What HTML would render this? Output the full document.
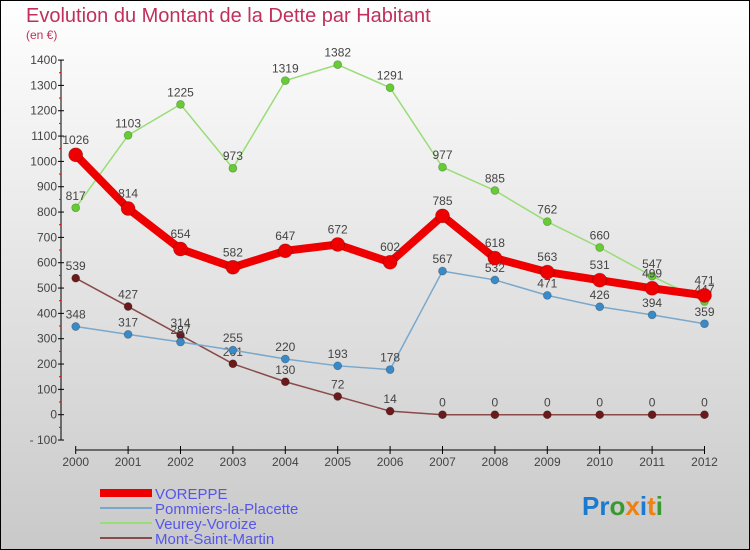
<!DOCTYPE html>
<html><head><meta charset="utf-8"><style>
body{margin:0;}
#c{width:750px;height:550px;position:relative;overflow:hidden;}
svg text{font-family:"Liberation Sans",sans-serif;}
</style></head><body>
<div id="c">
<svg id="s" width="750" height="550" xmlns="http://www.w3.org/2000/svg">
<defs><linearGradient id="bg" x1="0" y1="0" x2="0" y2="1"><stop offset="0" stop-color="#ffffff"/><stop offset="1" stop-color="#c9c9c9"/></linearGradient></defs>
<rect x="0.5" y="0.5" width="749" height="549" fill="url(#bg)" stroke="#000"/>
<text x="26" y="22" font-size="20" fill="#c0305a">Evolution du Montant de la Dette par Habitant</text>
<text x="26" y="39" font-size="12" fill="#c0305a">(en €)</text>
<g id="axes"></g><g id="series"></g><g id="legend"></g>
<text x="582" y="515" font-size="26" font-weight="bold"><tspan fill="#1a7ad0">Pr</tspan><tspan fill="#3a9a30">o</tspan><tspan fill="#f08010">x</tspan><tspan fill="#1a7ad0">i</tspan><tspan fill="#f08010">t</tspan><tspan fill="#3a9a30">i</tspan></text>
</svg></div>
<script>
const years=[2000,2001,2002,2003,2004,2005,2006,2007,2008,2009,2010,2011,2012];
const yTicks=[-100,0,100,200,300,400,500,600,700,800,900,1000,1100,1200,1300,1400];
const voreppe=[1026,814,654,582,647,672,602,785,618,563,531,499,471];
const pommiers=[348,317,287,255,220,193,178,567,532,471,426,394,359];
const veurey=[817,1103,1225,973,1319,1382,1291,977,885,762,660,547,447];
const mont=[539,427,314,201,130,72,14,0,0,0,0,0,0];
const NS="http://www.w3.org/2000/svg";
function X(i){return 75.7+i*52.4;}
function Y(v){return 414.7-v*0.2533;}
function mk(tag,attrs,parent,txt){const e=document.createElementNS(NS,tag);for(const k in attrs)e.setAttribute(k,attrs[k]);if(txt!==undefined)e.textContent=txt;parent.appendChild(e);return e;}
const ax=document.getElementById('axes');
let a=mk('line',{x1:61,y1:Y(1400),x2:61,y2:Y(-100),stroke:'#000','stroke-width':1},ax);


yTicks.forEach(t=>{
  let l=mk('line',{x1:58,y1:Y(t),x2:64,y2:Y(t),stroke:'#000'},ax);
  
  
  if(t<1400){let m=mk('line',{x1:59,y1:Y(t+50),x2:61,y2:Y(t+50),stroke:'#e00'},ax);
  
  }
  let tx=mk('text',{x:57,y:Y(t)+4,'font-size':12,fill:'#444','text-anchor':'end'},ax,t<0?'- '+(-t):String(t));
  
  
});
a=mk('line',{x1:X(0),y1:450,x2:X(12),y2:450,stroke:'#000','stroke-width':1},ax);


years.forEach((yr,i)=>{
  let l=mk('line',{x1:X(i),y1:446,x2:X(i),y2:454,stroke:'#000'},ax);
  
  
  let tx=mk('text',{x:X(i),y:466,'font-size':12,fill:'#444','text-anchor':'middle'},ax,String(yr));
  
  
});
const sg=document.getElementById('series');
function series(data,color,dot,w,r,name){
  const g=mk('g',{},sg);
  
  
  const p=mk('polyline',{points:data.map((v,i)=>X(i)+','+Y(v)).join(' '),fill:'none',stroke:color,'stroke-width':w,'stroke-linejoin':'round'},g);
  
  
  data.forEach((v,i)=>{
    const c=mk('circle',{cx:X(i),cy:Y(v),r:r,fill:dot,stroke:'rgba(0,0,0,0.25)','stroke-width':0.8},g);
    
    
    const t=mk('text',{x:X(i),y:Y(v)-r-4,'font-size':12,fill:'#444','text-anchor':'middle'},g,String(v));
    
    
  });
}
series(mont,'#8a4a4a','#6a1a1a',1.5,4,'mont-saint-martin');
series(pommiers,'#7aa8cc','#3a8ac8',1.5,4,'pommiers');
series(veurey,'#99dd77','#66cc33',1.5,4,'veurey');
series(voreppe,'#ee0000','#ee0000',8,7,'voreppe');
const lg=document.getElementById('legend');
const items=[['VOREPPE','#ee0000',8],['Pommiers-la-Placette','#7aa8cc',2],['Veurey-Voroize','#99dd77',2],['Mont-Saint-Martin','#8a4a4a',2]];
const ly=[493,508,523,538];
items.forEach((it,k)=>{
  const g=mk('g',{},lg);
  
  
  mk('line',{x1:100,y1:ly[k],x2:152,y2:ly[k],stroke:it[1],'stroke-width':it[2]},g);
  mk('text',{x:155,y:ly[k]+6,'font-size':15,fill:'#5555ee'},g,it[0]);
});
</script>
</body></html>
